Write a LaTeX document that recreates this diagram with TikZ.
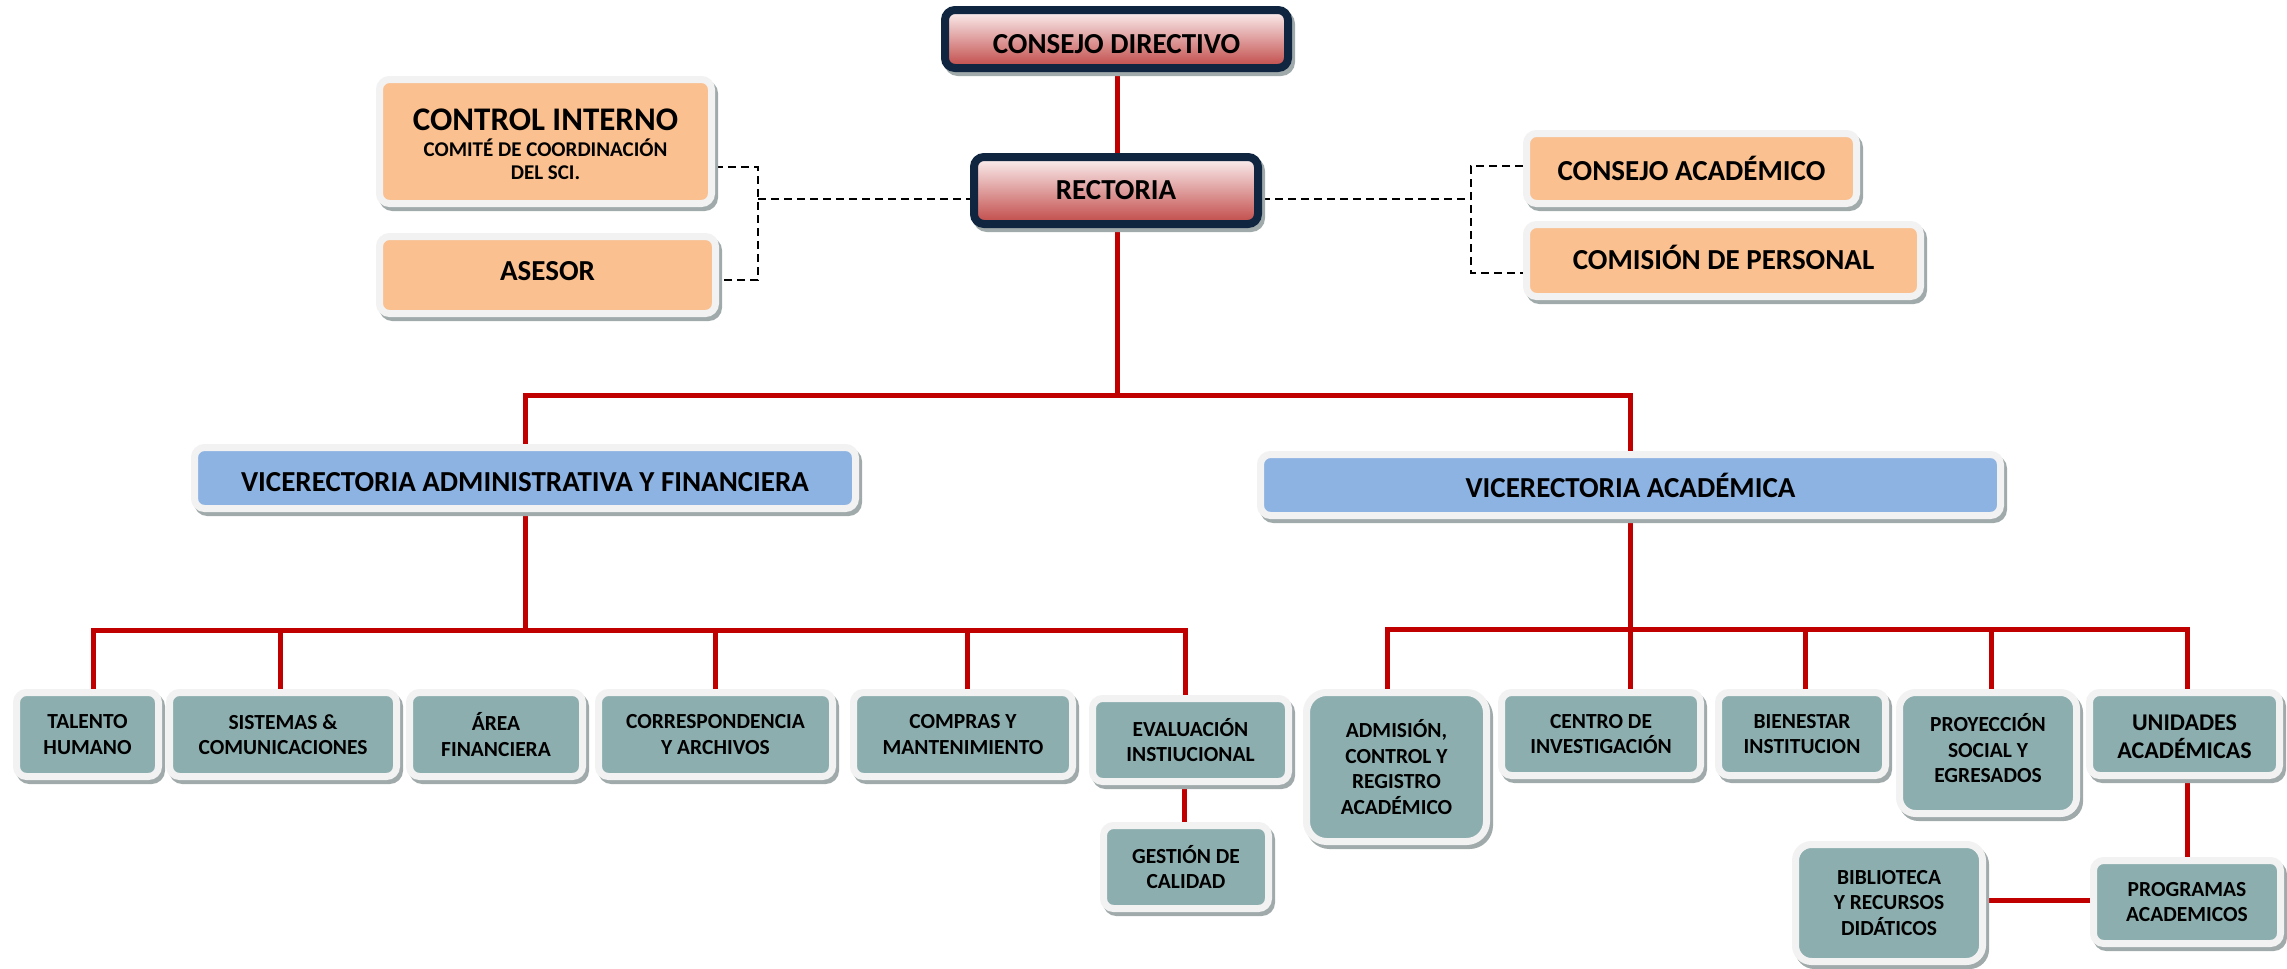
\documentclass[tikz,border=0pt]{standalone}
\usepackage{fontspec}
\setmainfont{Carlito}
\usetikzlibrary{shadows,backgrounds}
\definecolor{cTeal}{RGB}{141,174,175}
\definecolor{cOrange}{RGB}{250,192,144}
\definecolor{cBlue}{RGB}{141,179,226}
\definecolor{cBorder}{RGB}{242,242,242}
\definecolor{cShadow}{RGB}{160,170,170}
\definecolor{cRed}{RGB}{192,0,0}
\definecolor{cNavy}{RGB}{16,37,63}
\definecolor{cTopA}{RGB}{252,242,242}
\definecolor{cTopM}{RGB}{236,196,196}
\definecolor{cTopB}{RGB}{192,72,70}
\newcommand{\shiftdown}[2]{\raisebox{-#1}[\height][\depth]{#2}}
\begin{document}
\begin{tikzpicture}[x=1pt,y=-1pt,
  box/.style={draw=cBorder, line width=7pt, rounded corners=10pt, inner sep=0pt, align=center,
    font=\bfseries\fontsize{21.5}{25.5}\selectfont,
    drop shadow={shadow xshift=3pt, shadow yshift=-4pt, fill=cShadow, draw=cShadow, line width=7pt, opacity=1}},
  tealbox/.style={box, fill=cTeal},
  orangebox/.style={box, fill=cOrange, font=\bfseries\fontsize{29}{33}\selectfont},
  bluebox/.style={box, fill=cBlue, font=\bfseries\fontsize{29}{33}\selectfont},
  topbox/.style={draw=cNavy, line width=8pt, rounded corners=10pt, inner sep=0pt, align=center,
    top color=cTopA, middle color=cTopM, bottom color=cTopB,
    font=\bfseries\fontsize{29}{33}\selectfont,
    drop shadow={shadow xshift=3pt, shadow yshift=-4pt, fill=cShadow, draw=cShadow, line width=8pt, opacity=1}},
  redline/.style={draw=cRed, line width=5pt},
  dashline/.style={draw=black, line width=2pt, dash pattern=on 8pt off 5pt}]
\useasboundingbox (0,0) rectangle (2287,969);

% top level
\node[topbox, minimum width=343pt, minimum height=58pt] (cd) at (1116.5,39) {\shiftdown{5pt}{CONSEJO DIRECTIVO}};
\node[topbox, minimum width=284pt, minimum height=67pt] (rec) at (1116,190.5) {RECTORIA};

% staff
\node[orangebox, minimum width=332pt, minimum height=124pt] (ci) at (545.5,141.5)
  {\shiftdown{7pt}{\begin{tabular}{@{}c@{}}{\fontsize{33}{36}\selectfont CONTROL INTERNO}\\[-7pt]
   {\fontsize{21}{23}\selectfont COMITÉ DE COORDINACIÓN}\\[-10pt]{\fontsize{21}{23}\selectfont DEL SCI.}\end{tabular}}};
\node[orangebox, minimum width=336pt, minimum height=77pt] (as) at (547.5,275) {\shiftdown{-4pt}{ASESOR}};
\node[orangebox, minimum width=330pt, minimum height=70pt] (ca) at (1691.5,168.5) {CONSEJO ACADÉMICO};
\node[orangebox, minimum width=394pt, minimum height=72pt] (cp) at (1723.5,260.5) {\shiftdown{-3pt}{COMISIÓN DE PERSONAL}};

% vice
\node[bluebox, minimum width=661pt, minimum height=61pt] (va) at (525,478) {\shiftdown{4pt}{VICERECTORIA ADMINISTRATIVA Y FINANCIERA}};
\node[bluebox, minimum width=740pt, minimum height=61pt] (vc) at (1630.5,485) {VICERECTORIA ACADÉMICA};

% admin units
\node[tealbox, minimum width=142pt, minimum height=84pt] (tal) at (87.5,734.5) {TALENTO\\HUMANO};
\node[tealbox, minimum width=227pt, minimum height=84pt] (sis) at (283,734.5) {SISTEMAS \&\\COMUNICACIONES};
\node[tealbox, minimum width=173pt, minimum height=84pt] (are) at (496,734.5) {ÁREA\\FINANCIERA};
\node[tealbox, minimum width=234pt, minimum height=84pt] (cor) at (715.5,734.5) {CORRESPONDENCIA\\Y ARCHIVOS};
\node[tealbox, minimum width=219pt, minimum height=84pt] (com) at (963,734.5) {COMPRAS Y\\MANTENIMIENTO};
\node[tealbox, minimum width=196pt, minimum height=83pt] (eva) at (1190.5,740) {EVALUACIÓN\\INSTIUCIONAL};
\node[tealbox, minimum width=165pt, minimum height=83pt] (ges) at (1186,867) {GESTIÓN DE\\CALIDAD};

% academic units
\node[tealbox, minimum width=180pt, minimum height=149pt, rounded corners=20pt] (adm) at (1396.5,767) {ADMISIÓN,\\CONTROL Y\\REGISTRO\\ACADÉMICO};
\node[tealbox, minimum width=199pt, minimum height=83pt] (cen) at (1601,734) {CENTRO DE\\INVESTIGACIÓN};
\node[tealbox, minimum width=167pt, minimum height=83pt] (bie) at (1802,734) {BIENESTAR\\INSTITUCION};
\node[tealbox, minimum width=177pt, minimum height=121pt, rounded corners=16pt] (pro) at (1988,753)
  {\shiftdown{-1pt}{\begin{tabular}{@{}c@{}}PROYECCIÓN\\SOCIAL Y\\EGRESADOS\end{tabular}}};
\node[tealbox, minimum width=190pt, minimum height=83pt, font=\bfseries\fontsize{24}{28}\selectfont] (uni) at (2184.5,734)
  {\shiftdown{5pt}{\begin{tabular}{@{}c@{}}UNIDADES\\ACADÉMICAS\end{tabular}}};
\node[tealbox, minimum width=187pt, minimum height=83pt] (prg) at (2187,902) {PROGRAMAS\\ACADEMICOS};
\node[tealbox, minimum width=187pt, minimum height=117pt, rounded corners=16pt] (bib) at (1889,903) {BIBLIOTECA\\Y RECURSOS\\DIDÁTICOS};

\begin{scope}[on background layer]
  \fill[white] (0,0) rectangle (2287,969);
  \draw[redline] (cd.south -| 1117,0) -- (rec.north -| 1117,0);
  \draw[redline] (rec.south -| 1117,0) -- (1117,395);
  \draw[redline] (va.north) -- (525,395) -- (1630,395) -- (vc.north -| 1630,0);
  % admin bus
  \draw[redline] (va.south) -- (525,630);
  \draw[redline] (tal.north -| 93,0) -- (93,630) -- (1185,630) -- (eva.north -| 1185,0);
  \draw[redline] (280,630) -- (sis.north -| 280,0);
  \draw[redline] (715,630) -- (cor.north -| 715,0);
  \draw[redline] (967,630) -- (com.north -| 967,0);
  \draw[redline] (eva.south -| 1184,0) -- (ges.north -| 1184,0);
  % academic bus
  \draw[redline] (vc.south -| 1630,0) -- (cen.north -| 1630,0);
  \draw[redline] (adm.north -| 1387,0) -- (1387,629) -- (2187,629) -- (uni.north -| 2187,0);
  \draw[redline] (1805,629) -- (bie.north -| 1805,0);
  \draw[redline] (1991,629) -- (pro.north -| 1991,0);
  \draw[redline] (uni.south -| 2187,0) -- (prg.north -| 2187,0);
  \draw[redline] (bib.east |- 0,900) -- (prg.west |- 0,900);
  % dashed staff links
  \draw[dashline] (ci.east |- 0,167) -- (758,167) -- (758,280) -- (as.east |- 0,280);
  \draw[dashline] (758,199) -- (rec.west |- 0,199);
  \draw[dashline] (rec.east |- 0,199) -- (1471,199);
  \draw[dashline] (ca.west |- 0,166) -- (1471,166) -- (1471,273) -- (cp.west |- 0,273);
\end{scope}
\end{tikzpicture}
\end{document}
